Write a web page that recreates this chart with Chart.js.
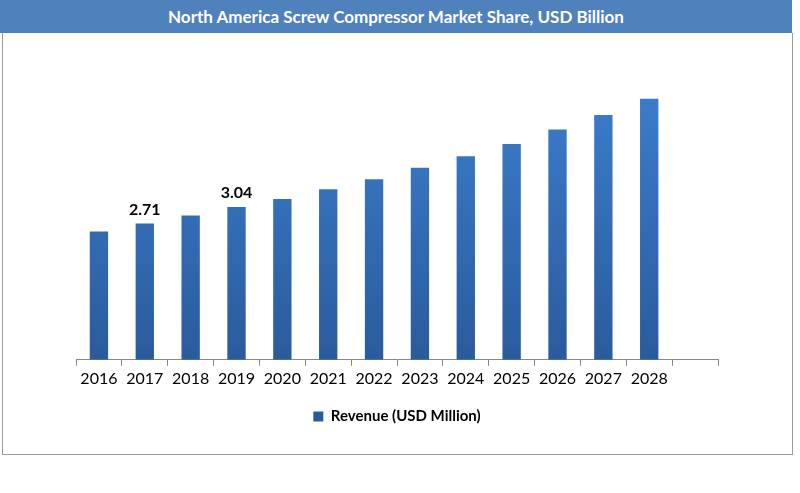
<!DOCTYPE html>
<html>
<head>
<meta charset="UTF-8" />
<script src="https://cdn.jsdelivr.net/npm/chart.js"></script>
<style>
  body { margin: 0; width: 800px; height: 493px; background: #fff; font-family: Lato, Arial, sans-serif; }
  #title { position: absolute; left: 0; top: 0; width: 792px; height: 33px; background: #4f81bd; color: #fff;
           font-weight: bold; font-size: 17px; text-align: center; line-height: 33px; }
  #box { position: absolute; left: 2px; top: 33px; width: 789px; height: 421px; border: 1px solid #9a9a9a; border-top: none; }
</style>
</head>
<body>
<div id="title">North America Screw Compressor Market Share, USD Billion</div>
<div id="box"><canvas id="c" width="789" height="421"></canvas></div>
<script>
// años (la última categoría queda vacía, como en el original)
const years = ['2016','2017','2018','2019','2020','2021','2022','2023','2024','2025','2026','2027','2028',''];
const revenue = [2.55, 2.71, 2.87, 3.04, 3.20, 3.39, 3.59, 3.82, 4.05, 4.29, 4.58, 4.87, 5.19, null];
const valueLabels = ['', '2.71', '', '3.04', '', '', '', '', '', '', '', '', '', ''];

const labelPlugin = {
  id: 'valueLabels',
  afterDatasetsDraw(chart) {
    const ctx = chart.ctx;
    const meta = chart.getDatasetMeta(0);
    ctx.save();
    ctx.font = 'bold 16px Lato, Arial, sans-serif';
    ctx.fillStyle = '#000';
    ctx.textAlign = 'center';
    ctx.textBaseline = 'bottom';
    meta.data.forEach((bar, i) => {
      if (valueLabels[i]) ctx.fillText(valueLabels[i], bar.x, bar.y - 6);
    });
    ctx.restore();
  }
};

new Chart(document.getElementById('c'), {
  type: 'bar',
  data: {
    labels: years,
    datasets: [{
      label: 'Revenue (USD Million)',
      data: revenue,
      backgroundColor: (c) => {
        const area = c.chart.chartArea;
        if (!area) return '#3a72c0';
        const g = c.chart.ctx.createLinearGradient(0, area.top, 0, area.bottom);
        g.addColorStop(0, '#3f84d6');
        g.addColorStop(1, '#2a5b9c');
        return g;
      },
      barPercentage: 0.4,
      categoryPercentage: 1
    }]
  },
  options: {
    responsive: false,
    animation: false,
    layout: { padding: { left: 73, right: 74, top: 0, bottom: 20 } },
    plugins: {
      tooltip: { enabled: false },
      legend: {
        position: 'bottom',
        labels: { boxWidth: 10, boxHeight: 10, color: '#000', padding: 18,
                  font: { size: 15, weight: 'bold', family: 'Lato, Arial, sans-serif' } }
      }
    },
    scales: {
      y: { display: false, min: 0, max: 6.5 },
      x: {
        border: { color: '#888' },
        grid: { display: true, drawOnChartArea: false, offset: true, color: '#888', tickLength: 6 },
        ticks: { color: '#000', font: { size: 16, family: 'Lato, Arial, sans-serif' }, maxRotation: 0 }
      }
    }
  },
  plugins: [labelPlugin]
});
</script>
</body>
</html>
